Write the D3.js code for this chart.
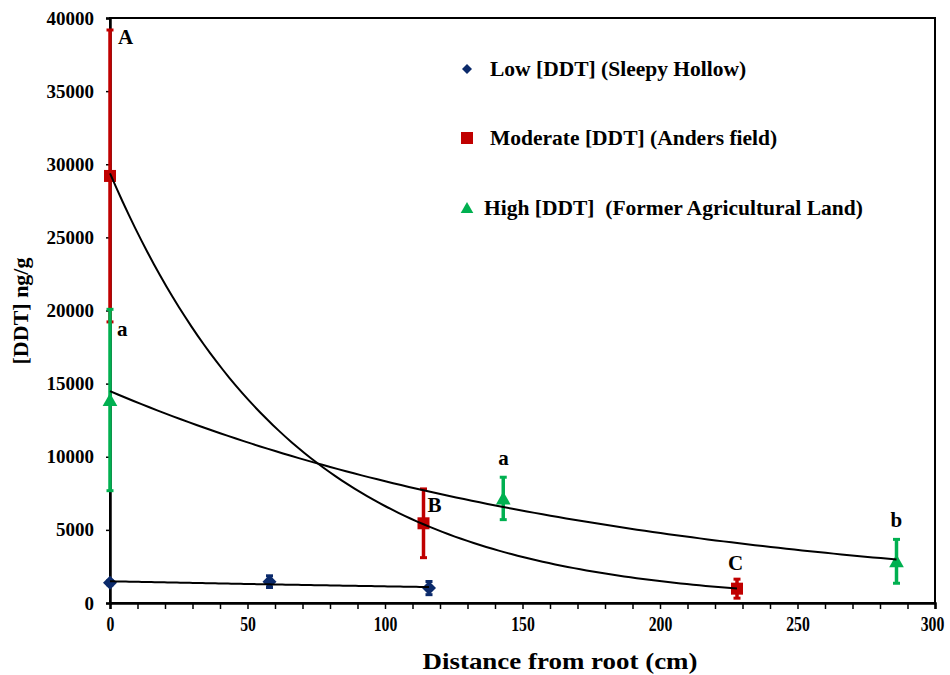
<!DOCTYPE html>
<html>
<head>
<meta charset="utf-8">
<script src="https://cdn.jsdelivr.net/npm/d3@7"></script>
<style>
  html, body { margin: 0; padding: 0; background: #fff; }
  svg { display: block; }
</style>
</head>
<body>
<svg id="chart" width="950" height="675"></svg>
<script>
// ---- Data ----
const lowX  = [0, 58, 116];
const lowY  = [1390, 1460, 1020];
const lowErr = [150, 400, 450];

const modX  = [0, 114, 228];
const modY  = [29200, 5450, 980];
const modErr = [9980, 2350, 650];

const highX = [0, 143, 286];
const highY = [13880, 7150, 2850];
const highErr = [6200, 1450, 1500];

const seriesNames = [
  "Low [DDT] (Sleepy Hollow)",
  "Moderate [DDT] (Anders field)",
  "High [DDT]  (Former Agricultural Land)"
];
const seriesColors = ["#0b2a6b", "#c00000", "#00b050"];

const annotations = [
  { text: "A", x: 0,   y: 39200, dx: 8,  dy: 14 },
  { text: "a", x: 0,   y: 20080, dx: 7,  dy: 27 },
  { text: "B", x: 114, y: 7840,  dx: 4,  dy: 24 },
  { text: "a", x: 143, y: 8600,  dx: -5, dy: -12 },
  { text: "C", x: 228, y: 1640,  dx: -9, dy: -9 },
  { text: "b", x: 286, y: 4490,  dx: -6, dy: -10 }
];

const xTicks = [0, 50, 100, 150, 200, 250, 300];
const yTicks = [0, 5000, 10000, 15000, 20000, 25000, 30000, 35000, 40000];

// ---- Layout ----
const FONT = "'Liberation Serif', 'Times New Roman', Tinos, 'DejaVu Serif', serif";
const svg = d3.select("#chart").attr("font-family", FONT).attr("font-weight", "bold");
const mLeft = 110, mRight = 935, mTop = 18, mBottom = 603;

const x = d3.scaleLinear().domain([0, 300]).range([mLeft, mRight]);
const y = d3.scaleLinear().domain([0, 40000]).range([mBottom, mTop]);

// frame
svg.append("rect")
  .attr("x", mLeft).attr("y", mTop)
  .attr("width", mRight - mLeft).attr("height", mBottom - mTop)
  .attr("fill", "none").attr("stroke", "#000").attr("stroke-width", 2);

function condense(sel, factor) {
  sel.each(function () {
    const w = this.getComputedTextLength();
    if (w > 0) d3.select(this).attr("textLength", w * factor).attr("lengthAdjust", "spacingAndGlyphs");
  });
}

// x axis (minor ticks every 10)
const xAxis = d3.axisBottom(x).tickValues(d3.range(0, 301, 10))
  .tickSize(6).tickPadding(7).tickFormat(d => xTicks.includes(d) ? d : "");
const gx = svg.append("g").attr("transform", `translate(0,${mBottom})`).call(xAxis)
  .attr("font-family", FONT).attr("font-size", 21).attr("font-weight", "bold");
gx.select(".domain").attr("stroke-width", 2.5);
gx.selectAll(".tick line").attr("stroke-width", 1.5);
gx.selectAll("text").attr("fill", "#000");
condense(gx.selectAll("text"), 0.75);
gx.selectAll(".tick").filter(d => d === 300).select("text").attr("dx", -3);

// y axis
const yAxis = d3.axisLeft(y).tickValues(yTicks).tickSize(4).tickPadding(12).tickFormat(d3.format("d"));
const gy = svg.append("g").attr("transform", `translate(${mLeft},0)`).call(yAxis)
  .attr("font-family", FONT).attr("font-size", 19).attr("font-weight", "bold");
gy.select(".domain").attr("stroke-width", 2.5);
gy.selectAll(".tick line").attr("stroke-width", 1.5);
gy.selectAll("text").attr("fill", "#000");

// axis titles
const xt = svg.append("text").attr("x", 560).attr("y", 669).attr("text-anchor", "middle")
  .attr("font-size", 24).text("Distance from root (cm)");
xt.attr("textLength", 275).attr("lengthAdjust", "spacingAndGlyphs");
svg.append("text").attr("transform", "translate(28,311) rotate(-90)")
  .attr("text-anchor", "middle").attr("font-size", 22).text("[DDT] ng/g");

// ---- Series ----
const series = [
  { xs: lowX,  ys: lowY,  es: lowErr,  color: seriesColors[0], shape: "diamond", ew: 3 },
  { xs: modX,  ys: modY,  es: modErr,  color: seriesColors[1], shape: "square",  ew: 3.5 },
  { xs: highX, ys: highY, es: highErr, color: seriesColors[2], shape: "triangle", ew: 3.5 }
];

function markerPath(shape, s) {
  if (shape === "diamond") return `M0,${-s}L${s},0L0,${s}L${-s},0Z`;
  if (shape === "square") return `M${-s},${-s}H${s}V${s}H${-s}Z`;
  return `M0,${-s}L${s * 1.05},${s * 0.85}L${-s * 1.05},${s * 0.85}Z`;
}

const drawOrder = [1, 2, 0];
drawOrder.forEach(i => {
  const s = series[i];
  const pts = s.xs.map((v, j) => ({ x: v, y: s.ys[j], e: s.es[j] }));
  const g = svg.append("g");
  g.selectAll("line.bar").data(pts).join("line")
    .attr("x1", d => x(d.x)).attr("x2", d => x(d.x))
    .attr("y1", d => y(d.y + d.e)).attr("y2", d => y(d.y - d.e))
    .attr("stroke", s.color).attr("stroke-width", s.ew);
  [1, -1].forEach(sign => {
    g.selectAll(null).data(pts).join("line")
      .attr("x1", d => x(d.x) - 3.5).attr("x2", d => x(d.x) + 3.5)
      .attr("y1", d => y(d.y + sign * d.e)).attr("y2", d => y(d.y + sign * d.e))
      .attr("stroke", s.color).attr("stroke-width", 3);
  });
});

// markers
const markerSize = { diamond: 7, square: 6, triangle: 7 };
drawOrder.forEach(i => {
  const s = series[i];
  const pts = s.xs.map((v, j) => ({ x: v, y: s.ys[j] }));
  svg.append("g").selectAll("path").data(pts).join("path")
    .attr("transform", d => `translate(${x(d.x)},${y(d.y)})`)
    .attr("d", markerPath(s.shape, markerSize[s.shape]))
    .attr("fill", s.color);
});

// exponential trendlines (least squares on ln y, as the spreadsheet does)
function expFit(xs, ys) {
  const n = xs.length;
  const ly = ys.map(Math.log);
  const mx = d3.mean(xs), my = d3.mean(ly);
  let sxy = 0, sxx = 0;
  for (let i = 0; i < n; i++) { sxy += (xs[i] - mx) * (ly[i] - my); sxx += (xs[i] - mx) ** 2; }
  const b = sxy / sxx;
  const a = Math.exp(my - b * mx);
  return v => a * Math.exp(b * v);
}
const line = d3.line().x(d => x(d[0])).y(d => y(d[1]));
series.forEach(s => {
  const f = expFit(s.xs, s.ys);
  const x0 = d3.min(s.xs), x1 = d3.max(s.xs);
  const pts = d3.range(0, 101).map(k => { const v = x0 + (x1 - x0) * k / 100; return [v, f(v)]; });
  svg.append("path").datum(pts).attr("d", line)
    .attr("fill", "none").attr("stroke", "#000").attr("stroke-width", 2);
});

// letter annotations
svg.append("g").selectAll("text").data(annotations).join("text")
  .attr("x", d => x(d.x) + d.dx).attr("y", d => y(d.y) + d.dy)
  .attr("font-size", 21)
  .text(d => d.text);

// legend
const legendRows = [
  { y: 69,  mx: 467, tx: 490 },
  { y: 138, mx: 467, tx: 490 },
  { y: 208, mx: 467, tx: 484 }
];
const legendShapes = ["diamond", "square", "triangle"];
const legendSizes = [5, 6, 6];
legendRows.forEach((r, i) => {
  svg.append("path")
    .attr("transform", `translate(${r.mx},${r.y})`)
    .attr("d", markerPath(legendShapes[i], legendSizes[i]))
    .attr("fill", seriesColors[i]);
  svg.append("text").attr("x", r.tx).attr("y", r.y + 7)
    .attr("font-size", 21.5)
    .style("white-space", "pre").text(seriesNames[i]);
});
</script>
</body>
</html>
